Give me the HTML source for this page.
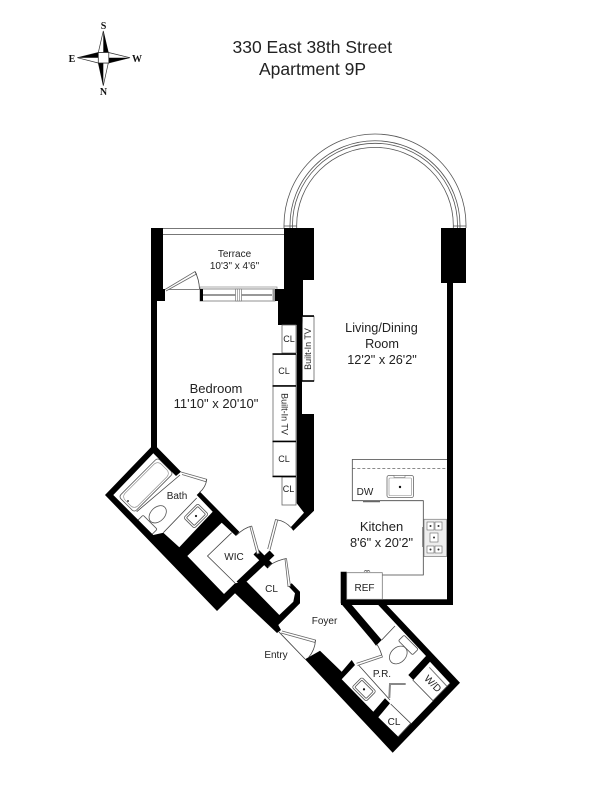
<!DOCTYPE html>
<html><head><meta charset="utf-8"><style>
html,body{margin:0;padding:0;background:#fff}
svg{display:block}
text{font-family:"Liberation Sans",sans-serif;fill:#222;text-anchor:middle}
.t{fill:none;stroke:#444;stroke-width:.8}
.g{fill:none;stroke:#777;stroke-width:.8}
.d{fill:#fff;stroke:#555;stroke-width:.8}
.k{fill:#000}
</style></head><body>
<svg width="600" height="800" viewBox="0 0 600 800" xmlns="http://www.w3.org/2000/svg">
<!-- compass -->
<polygon points="103.3,31 98.3,52.5 108.3,52.5" fill="#fff" stroke="#333" stroke-width=".7"/>
<polygon points="103.3,31 103.3,52.5 108.5,52.5" class="k"/>
<polygon points="103.3,85.7 98.3,63 108.3,63" fill="#fff" stroke="#333" stroke-width=".7"/>
<polygon points="103.3,85.7 103.3,63 98.3,63" class="k"/>
<polygon points="77.3,57.7 98.3,52.5 98.3,63" fill="#fff" stroke="#333" stroke-width=".7"/>
<polygon points="77.3,57.7 98.3,57.7 98.3,52.5" class="k"/>
<polygon points="130,57.7 108.5,52.5 108.5,63" fill="#fff" stroke="#333" stroke-width=".7"/>
<polygon points="130,57.7 108.5,57.7 108.5,63" class="k"/>
<rect x="98.3" y="52.5" width="10.5" height="10.5" fill="#fff" stroke="#222" stroke-width=".7"/>
<g font-weight="bold" font-size="10">
<text x="103.5" y="29" style="font-family:'Liberation Serif',serif;fill:#111">S</text>
<text x="103.5" y="95" style="font-family:'Liberation Serif',serif;fill:#111">N</text>
<text x="72" y="62" style="font-family:'Liberation Serif',serif;fill:#111">E</text>
<text x="137" y="62" style="font-family:'Liberation Serif',serif;fill:#111">W</text>
</g>
<!-- title -->
<text x="232.5" y="53" font-size="17.5" style="text-anchor:start">330 East 38th Street</text>
<text x="259" y="75" font-size="17.5" style="text-anchor:start">Apartment 9P</text>
<!-- bay arc -->
<g style="fill:none;stroke:#555;stroke-width:.8">
<path d="M284,228V225A91,91 0 0 1 466,225V228"/>
<path d="M290,228V225A85,84.3 0 0 1 460,225V228"/>
<path d="M292.5,228V225A82.5,81.7 0 0 1 457.5,225V228"/>
<path d="M296.7,228V225A78.3,77.7 0 0 1 453.3,225V228"/>
<line x1="284" y1="226" x2="297" y2="226"/><line x1="453" y1="226" x2="466" y2="226"/>
</g>
<!-- terrace -->
<line x1="163" y1="228.5" x2="284" y2="228.5" stroke="#777" stroke-width="1"/>
<line x1="163" y1="234.5" x2="284" y2="234.5" stroke="#777" stroke-width="1"/>
<line x1="165" y1="289.5" x2="200" y2="289.5" stroke="#555" stroke-width=".8"/>
<path d="M165,289.5L195,271.5L196.5,274L166,291" fill="#fff" stroke="#666" stroke-width=".8"/>
<path d="M195,271.5Q199,279 199.5,289" class="t"/>
<!-- window -->
<rect x="200" y="287" width="77" height="2.2" fill="#fff" stroke="#888" stroke-width=".7"/>
<rect x="200" y="289" width="75" height="12" fill="#fff" stroke="#777" stroke-width=".8"/>
<rect x="200" y="289" width="3" height="12" class="k"/>
<rect x="272.5" y="289" width="3" height="12" fill="#999"/>
<line x1="203" y1="295" x2="272" y2="295" stroke="#777" stroke-width="1.6"/>
<rect x="235.5" y="289" width="6" height="12" fill="#fff" stroke="#777" stroke-width=".7"/>
<line x1="237.5" y1="289" x2="237.5" y2="301" stroke="#777" stroke-width=".6"/>
<line x1="239.5" y1="289" x2="239.5" y2="301" stroke="#777" stroke-width=".6"/>
<!-- bath fixtures under walls -->
<rect x="-27.5" y="-11" width="55" height="22" rx="3" class="d" transform="translate(146,485) rotate(-45)"/>
<rect x="-25.5" y="-9" width="51" height="18" rx="5" fill="#fff" stroke="#888" stroke-width=".6" transform="translate(146,485) rotate(-45)"/>
<circle cx="128" cy="501" r="1" fill="#444"/>
<ellipse cx="157.7" cy="514.3" rx="10" ry="7" transform="rotate(-45 157.7 514.3)" class="d"/>
<rect x="-10" y="-4" width="20" height="8" rx="1.5" class="d" transform="translate(147.3,525) rotate(45)"/>
<path class="t" d="M136.7,511.7L180,475M163.3,532.7L196.7,498"/>
<g transform="translate(196,516) rotate(-45)">
<rect x="-10" y="-7.5" width="20" height="15" rx="2" class="d"/>
<rect x="-8" y="-5.5" width="16" height="11" rx="1" class="d"/>
<circle cx="0" cy="0" r="1.1" fill="#111"/>
</g>
<!-- bedroom left wall + bath + WIC + closet walls -->
<polygon class="k" points="151,228 163,228 163,289 165,289 165,301 157,301 157,447.3 181,471.7 176,476 153.3,453.3 113.3,495 153.3,535 163.3,532.7 179.3,547.3 212.7,511.7 196.7,495 200,491.7 239.3,531.7 236,536 221.7,522.7 187.3,556 224,594 235,583.3 246.7,581.7 279.3,615 293.3,601.7 295,593.3 288.3,586 291.7,583.3 300,591.7 300,603.3 278.3,625 281,630 277,633 235,593.3 217,611 105,495 151,447.3"/>
<!-- right of terrace -->
<polygon class="k" points="284,228 314,228 314,280 303,280 303,316 302,325 302,414 314,414 314,510.7 293.3,530.7 290.7,527.3 304,512.7 296.7,503.3 296.7,325 278,325 278,301 275,301 275,289 284,289"/>
<!-- diag cross -->
<line x1="239" y1="584" x2="272" y2="553" stroke="#000" stroke-width="7"/>
<line x1="256" y1="552" x2="270" y2="566" stroke="#000" stroke-width="7"/>
<!-- right wall -->
<rect x="441" y="228" width="25" height="55" class="k"/>
<rect x="447" y="283" width="6" height="322" class="k"/>
<rect x="341" y="599.3" width="112" height="5.7" class="k"/>
<polygon class="k" points="340.7,571.7 346.7,571.7 346.7,600 352.7,606 381.7,640 376,645.7 371.7,640 340.7,603.3"/>
<!-- P.R. / CL / W-D lower wall -->
<polygon class="k" points="305,659.3 392.7,752.7 460,682.7 386.7,605 378.3,605 426,656 408.3,675 413.3,680 430,661.7 450,683.3 398.3,736.7 378.3,717.3 390,703.3 385,698.3 373.3,711.7 341.7,679.3 355,665 351.7,660 341.7,671.7 320,650.7"/>
<!-- kitchen -->
<path class="t" d="M447,459.5H352.3V500.7H423.3V575H382"/>
<line x1="352.3" y1="468.5" x2="447" y2="468.5" stroke="#666" stroke-width=".7" stroke-dasharray="3 2"/>
<rect x="387" y="475.5" width="26.5" height="22" rx="2" fill="#fff" stroke="#666" stroke-width=".8"/>
<rect x="389" y="478" width="22.5" height="17.5" rx="1" fill="#fff" stroke="#888" stroke-width=".6"/>
<rect x="394" y="475.5" width="11" height="2" fill="#fff" stroke="#777" stroke-width=".6"/>
<circle cx="400" cy="487" r="1.2" fill="#111"/>
<line x1="363" y1="501.5" x2="380" y2="501.5" stroke="#666" stroke-width="1.4"/>
<rect x="424" y="519.3" width="22.5" height="37.3" fill="#eee" stroke="#888" stroke-width=".8"/>
<rect x="427" y="522" width="7" height="8" fill="#fff" stroke="#666" stroke-width=".6"/><rect x="435" y="522" width="7" height="8" fill="#fff" stroke="#666" stroke-width=".6"/>
<rect x="430" y="533" width="8" height="9" fill="#fff" stroke="#666" stroke-width=".6"/>
<rect x="427" y="546" width="7" height="7" fill="#fff" stroke="#666" stroke-width=".6"/><rect x="435" y="546" width="7" height="7" fill="#fff" stroke="#666" stroke-width=".6"/>
<circle cx="430.5" cy="526" r="1" fill="#333"/><circle cx="438.5" cy="526" r="1" fill="#333"/><circle cx="434" cy="537.5" r="1" fill="#333"/><circle cx="430.5" cy="549.5" r="1" fill="#333"/><circle cx="438.5" cy="549.5" r="1" fill="#333"/>
<rect x="422.3" y="527" width="1.5" height="20" fill="#666"/>
<rect x="346.7" y="572.7" width="35.6" height="26.6" fill="#fff" stroke="#777" stroke-width=".8"/>
<path d="M364,571.5q2,-2 3,0q1,-2 3,0" class="t"/>
<!-- closets -->
<g fill="#fff" stroke="#666" stroke-width=".8">
<rect x="282" y="325" width="14" height="28"/>
<rect x="273" y="354.5" width="23" height="31"/>
<rect x="273" y="386" width="23" height="55"/>
<rect x="273" y="441.5" width="23" height="34.5"/>
<rect x="282" y="477" width="14" height="28"/>
<rect x="302.5" y="316.5" width="11.5" height="64.5"/>
</g>
<g stroke="#000" stroke-width="1.6">
<line x1="272.5" y1="354" x2="296" y2="354"/>
<line x1="272.5" y1="386" x2="296" y2="386"/>
<line x1="272.5" y1="441.5" x2="296" y2="441.5"/>
<line x1="272.5" y1="476.5" x2="296" y2="476.5"/>
<line x1="302" y1="316" x2="314" y2="316"/>
<line x1="302" y1="381" x2="314" y2="381"/>
</g>
<!-- bath door -->
<path d="M181,472L206.7,479.3L206,481.7L182,474.5" fill="#fff" stroke="#666" stroke-width=".8"/>
<path d="M206.7,479.3Q206,487 199.3,492.7" class="t"/>
<!-- WIC and closet doors -->
<path class="t" d="M231.7,532.7L207.5,556L235,583"/>
<path d="M251.7,526L259.3,553.3L257,554L250,527" fill="#fff" stroke="#666" stroke-width=".8"/>
<path d="M236.7,535Q244,528 251.7,526" class="t"/>
<path d="M270,550L277.7,520L275.5,519.5L267.7,549" fill="#fff" stroke="#666" stroke-width=".8"/>
<path d="M277.7,520Q285,521 291.5,528" class="t"/>
<path d="M286.5,558.5L290.5,586L288,586.5L285,559" fill="#fff" stroke="#666" stroke-width=".8"/>
<path d="M286.5,558.5Q274,561 268,567" class="t"/>
<!-- entry door -->
<line x1="279" y1="632" x2="305" y2="659" stroke="#444" stroke-width=".9"/>
<path d="M282,631L315.5,640L315,642.5L281,633" fill="#fff" stroke="#666" stroke-width=".8"/>
<path d="M315.5,640Q315,650 308.5,657.5" class="t"/>
<!-- P.R. fixtures -->
<path class="t" d="M381.7,640L395,626M356.7,663L390,700M390.7,704L410.7,723.3L398.3,736.7M412.7,680L433,700.7L450,683.3"/>
<path d="M356.7,663.3L381.7,655L382.5,657L357.5,665.5" fill="#fff" stroke="#666" stroke-width=".8"/>
<path d="M381.7,655Q380,649 376.7,644" class="t"/>
<ellipse cx="398.3" cy="655" rx="10" ry="7.5" transform="rotate(-45 398.3 655)" class="d"/>
<rect x="-10" y="-4" width="20" height="8" rx="1.5" class="d" transform="translate(408.3,645) rotate(45)"/>
<g transform="translate(364,689.3) rotate(45)">
<rect x="-10" y="-7" width="20" height="14" rx="2" class="d"/>
<rect x="-8" y="-5" width="16" height="10" rx="1" class="d"/>
<circle cx="0" cy="0" r="1.1" fill="#111"/>
</g>
<path d="M405.7,684H390L389.3,698" fill="none" stroke="#888" stroke-width="2"/>
<line x1="429.3" y1="667.3" x2="446.7" y2="686" stroke="#777" stroke-width="1"/>
<!-- labels -->
<text x="234.5" y="257" font-size="10">Terrace</text>
<text x="234.5" y="269" font-size="10">10'3" x 4'6"</text>
<text x="381.5" y="332" font-size="12.7">Living/Dining</text>
<text x="382" y="348" font-size="12.7">Room</text>
<text x="382" y="364" font-size="12.7">12'2" x 26'2"</text>
<text x="216" y="393" font-size="13">Bedroom</text>
<text x="216" y="408" font-size="13">11'10" x 20'10"</text>
<text x="381.5" y="531" font-size="13">Kitchen</text>
<text x="381.5" y="547" font-size="12.8">8'6" x 20'2"</text>
<g font-size="9">
<text x="289" y="342">CL</text>
<text x="284" y="374">CL</text>
<text x="284" y="462">CL</text>
<text x="288.5" y="492">CL</text>
<text x="365" y="495" font-size="10">DW</text>
<text x="364.5" y="591" font-size="10">REF</text>
</g>
<text x="0" y="0" font-size="9" transform="translate(311,349) rotate(-90)">Built-In TV</text>
<text x="0" y="0" font-size="9" transform="translate(281.5,414) rotate(90)">Built-In TV</text>
<text x="177" y="499" font-size="10">Bath</text>
<text x="234" y="560" font-size="10">WIC</text>
<text x="271.5" y="592" font-size="10">CL</text>
<text x="324.5" y="624" font-size="10">Foyer</text>
<text x="276" y="658" font-size="10">Entry</text>
<text x="382" y="677" font-size="10">P.R.</text>
<text x="394" y="725" font-size="10">CL</text>
<text x="0" y="0" font-size="10" transform="translate(430.5,686) rotate(45)">W/D</text>
</svg>
</body></html>
